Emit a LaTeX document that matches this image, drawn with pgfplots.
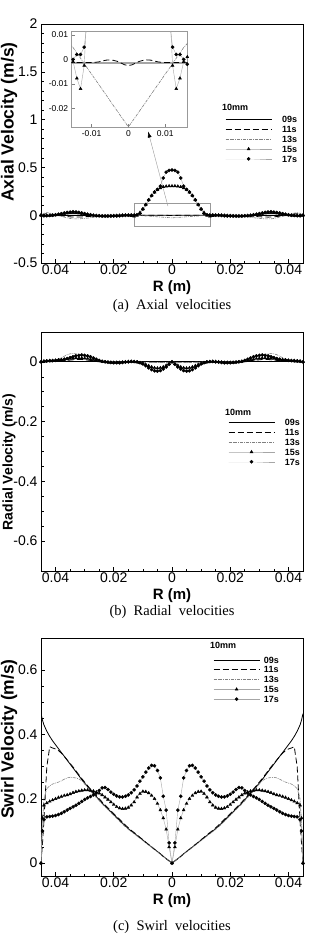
\documentclass[border=0pt]{standalone}
\usepackage{fontspec}
\setmainfont{Liberation Sans}
\newfontfamily\capfont{Liberation Serif}
\usepackage{pgfplots}
\pgfplotsset{compat=1.18}
\usepackage{pgfplotstable}
\usetikzlibrary{arrows.meta}

% Axial velocity (panel a)
\pgfplotstableread{
r a09 a11 a13 a15 a17
-0.045 0.000 0.000 0.000 0.000 0.000
-0.044 -0.002 0.012 0.020 -0.004 -0.006
-0.043 -0.002 0.016 0.027 -0.004 -0.006
-0.042 -0.002 0.013 0.022 -0.003 -0.004
-0.041 -0.002 0.008 0.014 -0.001 -0.001
-0.040 -0.002 0.003 0.005 0.002 0.004
-0.039 -0.002 -0.002 -0.004 0.006 0.010
-0.038 -0.002 -0.006 -0.012 0.011 0.016
-0.037 -0.002 -0.010 -0.020 0.016 0.023
-0.036 -0.002 -0.014 -0.028 0.021 0.029
-0.035 -0.002 -0.017 -0.034 0.024 0.033
-0.034 -0.002 -0.019 -0.038 0.025 0.035
-0.033 -0.002 -0.020 -0.039 0.024 0.034
-0.032 -0.002 -0.019 -0.038 0.021 0.030
-0.031 -0.002 -0.018 -0.036 0.017 0.024
-0.030 -0.002 -0.016 -0.033 0.012 0.017
-0.029 -0.002 -0.014 -0.030 0.007 0.010
-0.028 -0.002 -0.012 -0.026 0.002 0.004
-0.027 -0.002 -0.010 -0.022 -0.002 -0.001
-0.026 -0.002 -0.008 -0.018 -0.005 -0.005
-0.025 -0.002 -0.007 -0.014 -0.007 -0.007
-0.024 -0.002 -0.006 -0.010 -0.008 -0.009
-0.023 -0.002 -0.005 -0.006 -0.008 -0.010
-0.022 -0.002 -0.004 -0.002 -0.008 -0.010
-0.021 -0.002 -0.003 0.002 -0.007 -0.010
-0.020 -0.002 -0.003 0.005 -0.006 -0.009
-0.019 -0.002 -0.002 0.007 -0.004 -0.008
-0.018 -0.002 -0.002 0.008 -0.002 -0.006
-0.017 -0.002 -0.0015 0.0075 0.000 -0.004
-0.016 -0.0015 -0.0013 0.0065 0.0010 -0.002
-0.015 -0.0015 -0.0013 0.0048 -0.0010 0.000
-0.014 -0.0015 -0.0013 0.0026 -0.0077 0.002
-0.013 -0.0015 -0.0013 0.0005 -0.0120 0.002
-0.012 -0.0015 -0.0013 -0.0017 -0.0025 0.005
-0.011 -0.0015 -0.0013 -0.0039 0.028 0.018
-0.010 -0.0015 -0.0013 -0.0060 0.065 0.063
-0.009 -0.0015 -0.0012 -0.0082 0.110 0.110
-0.008 -0.0015 -0.0010 -0.0103 0.160 0.160
-0.007 -0.0015 -0.0006 -0.0125 0.205 0.205
-0.006 -0.0015 -0.0003 -0.0146 0.240 0.242
-0.005 -0.0015 -0.0002 -0.0168 0.265 0.270
-0.004 -0.0015 -0.0004 -0.0190 0.285 0.305
-0.003 -0.0015 -0.0008 -0.0211 0.296 0.390
-0.002 -0.0015 -0.0015 -0.0233 0.302 0.450
-0.001 -0.0015 -0.0022 -0.0254 0.305 0.468
0.000 -0.0015 -0.0025 -0.0276 0.305 0.472
0.001 -0.0015 -0.0022 -0.0254 0.305 0.468
0.002 -0.0015 -0.0015 -0.0233 0.302 0.450
0.003 -0.0015 -0.0008 -0.0211 0.296 0.390
0.004 -0.0015 -0.0004 -0.0190 0.285 0.305
0.005 -0.0015 -0.0002 -0.0168 0.265 0.270
0.006 -0.0015 -0.0003 -0.0146 0.240 0.242
0.007 -0.0015 -0.0006 -0.0125 0.205 0.205
0.008 -0.0015 -0.0010 -0.0103 0.160 0.160
0.009 -0.0015 -0.0012 -0.0082 0.110 0.110
0.010 -0.0015 -0.0013 -0.0060 0.065 0.063
0.011 -0.0015 -0.0013 -0.0039 0.028 0.018
0.012 -0.0015 -0.0013 -0.0017 -0.0025 0.005
0.013 -0.0015 -0.0013 0.0005 -0.0120 0.002
0.014 -0.0015 -0.0013 0.0026 -0.0077 0.002
0.015 -0.0015 -0.0013 0.0048 -0.0010 0.000
0.016 -0.0015 -0.0013 0.0065 0.0010 -0.002
0.017 -0.002 -0.0015 0.0075 0.000 -0.004
0.018 -0.002 -0.002 0.008 -0.002 -0.006
0.019 -0.002 -0.002 0.007 -0.004 -0.008
0.020 -0.002 -0.003 0.005 -0.006 -0.009
0.021 -0.002 -0.003 0.002 -0.007 -0.010
0.022 -0.002 -0.004 -0.002 -0.008 -0.010
0.023 -0.002 -0.005 -0.006 -0.008 -0.010
0.024 -0.002 -0.006 -0.010 -0.008 -0.009
0.025 -0.002 -0.007 -0.014 -0.007 -0.007
0.026 -0.002 -0.008 -0.018 -0.005 -0.005
0.027 -0.002 -0.010 -0.022 -0.002 -0.001
0.028 -0.002 -0.012 -0.026 0.002 0.004
0.029 -0.002 -0.014 -0.030 0.007 0.010
0.030 -0.002 -0.016 -0.033 0.012 0.017
0.031 -0.002 -0.018 -0.036 0.017 0.024
0.032 -0.002 -0.019 -0.038 0.021 0.030
0.033 -0.002 -0.020 -0.039 0.024 0.034
0.034 -0.002 -0.019 -0.038 0.025 0.035
0.035 -0.002 -0.017 -0.034 0.024 0.033
0.036 -0.002 -0.014 -0.028 0.021 0.029
0.037 -0.002 -0.010 -0.020 0.016 0.023
0.038 -0.002 -0.006 -0.012 0.011 0.016
0.039 -0.002 -0.002 -0.004 0.006 0.010
0.040 -0.002 0.003 0.005 0.002 0.004
0.041 -0.002 0.008 0.014 -0.001 -0.001
0.042 -0.002 0.013 0.022 -0.003 -0.004
0.043 -0.002 0.016 0.027 -0.004 -0.006
0.044 -0.002 0.012 0.020 -0.004 -0.006
0.045 0.000 0.000 0.000 0.000 0.000
}\tabA

% Radial velocity (panel b)
\pgfplotstableread{
r b09 b11 b13 b15 b17
-0.045 0 0 0 0 0
-0.044 0 0 0.001 0.002 0.002
-0.043 0 0 0.002 0.003 0.003
-0.042 0 0 0.002 0.004 0.004
-0.041 0 0.001 0.003 0.004 0.004
-0.040 0 0.001 0.005 0.005 0.005
-0.039 0 0.002 0.009 0.006 0.006
-0.038 0 0.003 0.014 0.007 0.007
-0.037 0 0.004 0.019 0.008 0.009
-0.036 0 0.005 0.024 0.010 0.011
-0.035 0 0.006 0.027 0.011 0.014
-0.034 0 0.007 0.028 0.012 0.017
-0.033 0 0.008 0.027 0.013 0.020
-0.032 0 0.008 0.025 0.013 0.022
-0.031 0 0.008 0.023 0.013 0.023
-0.030 0 0.007 0.020 0.012 0.022
-0.029 0 0.006 0.017 0.011 0.020
-0.028 0 0.005 0.014 0.009 0.017
-0.027 0 0.004 0.011 0.007 0.013
-0.026 0 0.003 0.008 0.005 0.009
-0.025 0 0.002 0.006 0.003 0.005
-0.024 0 0.002 0.004 0.001 0.002
-0.023 0 0.001 0.003 0 0
-0.022 0 0.001 0.002 -0.001 -0.001
-0.021 0 0 0.001 -0.002 -0.002
-0.020 0 0 0.001 -0.002 -0.003
-0.019 0 0 0 -0.002 -0.003
-0.018 0 0 0 -0.002 -0.003
-0.017 0 0 0 -0.001 -0.002
-0.016 0 0 0 0 -0.001
-0.015 0 0 0 0.001 0
-0.014 0 0 0 0.001 0.001
-0.013 0 0 0 0 0.001
-0.012 0 0 0 -0.001 0
-0.011 0 0 0 -0.003 -0.003
-0.010 0 0 -0.001 -0.006 -0.007
-0.009 0 0 -0.001 -0.009 -0.013
-0.008 0 0 -0.001 -0.013 -0.020
-0.007 0 0 -0.002 -0.017 -0.026
-0.006 0 0 -0.002 -0.020 -0.030
-0.005 0 0 -0.002 -0.021 -0.031
-0.004 0 0 -0.002 -0.020 -0.029
-0.003 0 0 -0.002 -0.017 -0.024
-0.002 0 0 -0.002 -0.012 -0.017
-0.001 0 0 -0.001 -0.006 -0.008
0.000 0 0 0 0 0
0.001 0 0 -0.001 -0.006 -0.008
0.002 0 0 -0.002 -0.012 -0.017
0.003 0 0 -0.002 -0.017 -0.024
0.004 0 0 -0.002 -0.020 -0.029
0.005 0 0 -0.002 -0.021 -0.031
0.006 0 0 -0.002 -0.020 -0.030
0.007 0 0 -0.002 -0.017 -0.026
0.008 0 0 -0.001 -0.013 -0.020
0.009 0 0 -0.001 -0.009 -0.013
0.010 0 0 -0.001 -0.006 -0.007
0.011 0 0 0 -0.003 -0.003
0.012 0 0 0 -0.001 0
0.013 0 0 0 0 0.001
0.014 0 0 0 0.001 0.001
0.015 0 0 0 0.001 0
0.016 0 0 0 0 -0.001
0.017 0 0 0 -0.001 -0.002
0.018 0 0 0 -0.002 -0.003
0.019 0 0 0 -0.002 -0.003
0.020 0 0 0.001 -0.002 -0.003
0.021 0 0 0.001 -0.002 -0.002
0.022 0 0.001 0.002 -0.001 -0.001
0.023 0 0.001 0.003 0 0
0.024 0 0.002 0.004 0.001 0.002
0.025 0 0.002 0.006 0.003 0.005
0.026 0 0.003 0.008 0.005 0.009
0.027 0 0.004 0.011 0.007 0.013
0.028 0 0.005 0.014 0.009 0.017
0.029 0 0.006 0.017 0.011 0.020
0.030 0 0.007 0.020 0.012 0.022
0.031 0 0.008 0.023 0.013 0.023
0.032 0 0.008 0.025 0.013 0.022
0.033 0 0.008 0.027 0.013 0.020
0.034 0 0.007 0.028 0.012 0.017
0.035 0 0.006 0.027 0.011 0.014
0.036 0 0.005 0.024 0.010 0.011
0.037 0 0.004 0.019 0.008 0.009
0.038 0 0.003 0.014 0.007 0.007
0.039 0 0.002 0.009 0.006 0.006
0.040 0 0.001 0.005 0.005 0.005
0.041 0 0.001 0.003 0.004 0.004
0.042 0 0 0.002 0.004 0.004
0.043 0 0 0.002 0.003 0.003
0.044 0 0 0.001 0.002 0.002
0.045 0 0 0 0 0
}\tabB

% Swirl velocity (panel c)
\pgfplotstableread{
r c09 c11 c13 c15 c17
-0.045 0.465 0.000 0.000 0.000 0.000
-0.0445 0.445 0.060 0.120 0.140 0.100
-0.044 0.430 0.130 0.200 0.180 0.135
-0.043 0.410 0.300 0.232 0.187 0.144
-0.042 0.394 0.362 0.240 0.192 0.145
-0.041 0.380 0.358 0.246 0.196 0.146
-0.040 0.368 0.355 0.249 0.200 0.148
-0.039 0.356 0.350 0.252 0.204 0.151
-0.038 0.344 0.342 0.256 0.207 0.155
-0.037 0.332 0.332 0.261 0.210 0.160
-0.036 0.320 0.321 0.265 0.212 0.165
-0.035 0.308 0.310 0.267 0.215 0.170
-0.034 0.296 0.299 0.266 0.219 0.175
-0.033 0.284 0.287 0.265 0.222 0.180
-0.032 0.272 0.275 0.262 0.224 0.186
-0.031 0.260 0.263 0.256 0.226 0.192
-0.030 0.249 0.252 0.246 0.227 0.198
-0.029 0.238 0.241 0.235 0.227 0.203
-0.028 0.227 0.230 0.224 0.226 0.207
-0.027 0.217 0.220 0.214 0.224 0.212
-0.026 0.207 0.210 0.204 0.221 0.218
-0.025 0.197 0.200 0.194 0.217 0.226
-0.024 0.187 0.190 0.184 0.212 0.234
-0.023 0.178 0.181 0.175 0.205 0.235
-0.022 0.169 0.172 0.166 0.198 0.229
-0.021 0.160 0.163 0.157 0.190 0.221
-0.020 0.151 0.154 0.148 0.182 0.214
-0.019 0.142 0.145 0.139 0.175 0.209
-0.018 0.133 0.136 0.130 0.171 0.206
-0.017 0.124 0.127 0.121 0.169 0.206
-0.016 0.115 0.118 0.113 0.170 0.208
-0.015 0.107 0.110 0.105 0.173 0.212
-0.014 0.100 0.102 0.098 0.180 0.219
-0.013 0.093 0.095 0.091 0.190 0.228
-0.012 0.086 0.088 0.084 0.205 0.240
-0.011 0.079 0.080 0.077 0.216 0.255
-0.010 0.072 0.073 0.070 0.223 0.268
-0.009 0.064 0.065 0.063 0.222 0.283
-0.008 0.057 0.058 0.056 0.218 0.296
-0.007 0.050 0.051 0.049 0.210 0.304
-0.006 0.043 0.043 0.042 0.200 0.303
-0.005 0.036 0.036 0.035 0.185 0.288
-0.004 0.029 0.029 0.028 0.165 0.265
-0.003 0.021 0.021 0.021 0.140 0.208
-0.002 0.014 0.014 0.014 0.105 0.165
-0.001 0.007 0.007 0.007 0.050 0.063
0.000 0.000 0.000 0.000 0.000 0.000
0.001 0.007 0.007 0.007 0.050 0.063
0.002 0.014 0.014 0.014 0.105 0.165
0.003 0.021 0.021 0.021 0.140 0.208
0.004 0.029 0.029 0.028 0.165 0.265
0.005 0.036 0.036 0.035 0.185 0.288
0.006 0.043 0.043 0.042 0.200 0.303
0.007 0.050 0.051 0.049 0.210 0.304
0.008 0.057 0.058 0.056 0.218 0.296
0.009 0.064 0.065 0.063 0.222 0.283
0.010 0.072 0.073 0.070 0.223 0.268
0.011 0.079 0.080 0.077 0.216 0.255
0.012 0.086 0.088 0.084 0.205 0.240
0.013 0.093 0.095 0.091 0.190 0.228
0.014 0.100 0.102 0.098 0.180 0.219
0.015 0.107 0.110 0.105 0.173 0.212
0.016 0.115 0.118 0.113 0.170 0.208
0.017 0.124 0.127 0.121 0.169 0.206
0.018 0.133 0.136 0.130 0.171 0.206
0.019 0.142 0.145 0.139 0.175 0.209
0.020 0.151 0.154 0.148 0.182 0.214
0.021 0.160 0.163 0.157 0.190 0.221
0.022 0.169 0.172 0.166 0.198 0.229
0.023 0.178 0.181 0.175 0.205 0.235
0.024 0.187 0.190 0.184 0.212 0.234
0.025 0.197 0.200 0.194 0.217 0.226
0.026 0.207 0.210 0.204 0.221 0.218
0.027 0.217 0.220 0.214 0.224 0.212
0.028 0.227 0.230 0.224 0.226 0.207
0.029 0.238 0.241 0.235 0.227 0.203
0.030 0.249 0.252 0.246 0.227 0.198
0.031 0.260 0.263 0.256 0.226 0.192
0.032 0.272 0.275 0.262 0.224 0.186
0.033 0.284 0.287 0.265 0.222 0.180
0.034 0.296 0.299 0.266 0.219 0.175
0.035 0.308 0.310 0.267 0.215 0.170
0.036 0.320 0.321 0.265 0.212 0.165
0.037 0.332 0.332 0.261 0.210 0.160
0.038 0.344 0.342 0.256 0.207 0.155
0.039 0.356 0.350 0.252 0.204 0.151
0.040 0.368 0.355 0.249 0.200 0.148
0.041 0.380 0.358 0.246 0.196 0.146
0.042 0.394 0.362 0.240 0.192 0.145
0.043 0.410 0.300 0.232 0.187 0.144
0.044 0.430 0.130 0.200 0.180 0.135
0.0445 0.445 0.060 0.120 0.140 0.100
0.045 0.465 0.000 0.000 0.000 0.000
}\tabC

\pgfplotsset{
  s09/.style={black, line width=0.8pt, no marks},
  s11/.style={black, line width=0.8pt, dash pattern=on 6pt off 3pt, no marks},
  s13/.style={gray, line width=0.6pt, dash pattern=on 3pt off 1pt on 0.8pt off 1pt, no marks},
  s15/.style={gray!70, line width=0.4pt, mark=triangle*, mark size=1.7pt, mark options={black, fill=black, solid}},
  s17/.style={gray!70, line width=0.4pt, mark=*, mark size=1.6pt, mark options={black, fill=black, solid}},
  panel/.style={
    scale only axis, width=262pt,
    xmin=-0.045, xmax=0.045,
    xtick={-0.04,-0.02,0,0.02,0.04},
    xticklabels={0.04,0.02,0,0.02,0.04},
    minor x tick num=3,
    scaled ticks=false,
    tick pos=left, tick align=inside,
    major tick length=4pt, minor tick length=2.5pt,
    every tick/.style={black, line width=0.6pt},
    axis line style={line width=0.8pt},
    tick label style={font=\fontsize{14}{14}\selectfont},
    xticklabel style={yshift=1.5pt},
    /pgf/number format/assume math mode=true,
    xlabel={R (m)},
    xlabel style={font=\fontsize{15}{15}\selectfont\bfseries, at={(axis description cs:0.5,-0.104)}, anchor=center},
    legend cell align=left,
    legend style={draw=none, fill=none, font=\fontsize{9}{9}\selectfont\bfseries,
      row sep=1.3pt, column sep=9pt, nodes={inner sep=1pt, text height=6.5pt, text depth=0pt}},
    legend image code/.code={\draw[mark repeat=2,mark phase=2,##1] plot coordinates {(0pt,0pt) (23pt,0pt) (46pt,0pt)};},
  },
}

\begin{document}
\begin{tikzpicture}
\useasboundingbox (0,0) rectangle (308pt,-937pt);

% ---------- (a) axial ----------
\begin{axis}[panel, at={(41pt,-263pt)}, anchor=south west, height=239pt,
  ymin=-0.5, ymax=2,
  ytick={-0.5,0,0.5,1,1.5,2}, yticklabels={-0.5,0,0.5,1,1.5,2},
  minor y tick num=4,
  ylabel={Axial Velocity (m/s)},
  ylabel style={font=\fontsize{17.5}{17.5}\selectfont\bfseries, at={(axis description cs:-0.122,0.59)}, anchor=center},
  legend style={at={(axis description cs:0.691,0.627)}, anchor=north west}]
\addplot[s09] table[x=r, y=a09] {\tabA};
\addplot[s11] table[x=r, y=a11] {\tabA};
\addplot[s13] table[x=r, y=a13] {\tabA};
\addplot[s15] table[x=r, y=a15] {\tabA};
\addplot[s17] table[x=r, y=a17] {\tabA};
\legend{09s,11s,13s,15s,17s}
\node[anchor=west, font=\fontsize{9}{9}\selectfont\bfseries, inner sep=0pt] at (axis description cs:0.691,0.653) {10mm};
\draw[gray!80, line width=0.5pt] (axis cs:-0.013,-0.12) rectangle (axis cs:0.013,0.13);
\draw[gray!80, line width=0.4pt, -{Latex[length=6pt,width=4pt,black]}] (axis cs:-0.0014,0.095) -- (axis cs:-0.0082,0.875);
\end{axis}

% inset
\begin{axis}[at={(71.7pt,-127.3pt)}, anchor=south west, scale only axis,
  width=115.6pt, height=95.6pt,
  xmin=-0.0154, xmax=0.0160, ymin=-0.0277, ymax=0.0113,
  xtick={-0.01,0,0.01}, xticklabels={-0.01,0,0.01},
  ytick={-0.02,-0.01,0,0.01}, yticklabels={-0.02,-0.01,0,0.01},
  scaled ticks=false,
  tick pos=left, tick align=inside, major tick length=3pt,
  every tick/.style={gray, line width=0.5pt},
  axis line style={gray!80, line width=0.6pt},
  tick label style={font=\fontsize{8.5}{8.5}\selectfont},
  axis background/.style={fill=white}]
\addplot[s09] table[x=r, y=a09] {\tabA};
\addplot[s11] table[x=r, y=a11] {\tabA};
\addplot[s13] table[x=r, y=a13] {\tabA};
\addplot[s15] table[x=r, y=a15] {\tabA};
\addplot[s17] table[x=r, y=a17] {\tabA};
\end{axis}

\node[font=\capfont\fontsize{14.5}{15}\selectfont] at (172pt,-306pt) {(a)~~Axial~~velocities};

% ---------- (b) radial ----------
\begin{axis}[panel, at={(41pt,-571pt)}, anchor=south west, height=239pt,
  ymin=-0.7, ymax=0.1,
  ytick={-0.6,-0.4,-0.2,0}, yticklabels={-0.6,-0.4,-0.2,0},
  minor y tick num=3,
  ylabel={Radial Velocity (m/s)},
  ylabel style={font=\fontsize{14}{14}\selectfont\bfseries, at={(axis description cs:-0.122,0.456)}, anchor=center},
  legend style={at={(axis description cs:0.702,0.648)}, anchor=north west}]
\addplot[s09] table[x=r, y=b09] {\tabB};
\addplot[s11] table[x=r, y=b11] {\tabB};
\addplot[s13] table[x=r, y=b13] {\tabB};
\addplot[s15] table[x=r, y=b15] {\tabB};
\addplot[s17] table[x=r, y=b17] {\tabB};
\legend{09s,11s,13s,15s,17s}
\node[anchor=west, font=\fontsize{9}{9}\selectfont\bfseries, inner sep=0pt] at (axis description cs:0.702,0.662) {10mm};
\end{axis}

\node[font=\capfont\fontsize{14.5}{15}\selectfont] at (172pt,-612pt) {(b)~~Radial~~velocities};

% ---------- (c) swirl ----------
\begin{axis}[panel, at={(41pt,-876pt)}, anchor=south west, height=238pt,
  ymin=-0.04, ymax=0.7,
  ytick={0,0.2,0.4,0.6}, yticklabels={0,0.2,0.4,0.6},
  minor y tick num=3,
  ylabel={Swirl Velocity (m/s)},
  ylabel style={font=\fontsize{17.5}{17.5}\selectfont\bfseries, at={(axis description cs:-0.122,0.576)}, anchor=center},
  legend style={at={(axis description cs:0.645,0.935)}, anchor=north west, column sep=3pt}]
\addplot[s09] table[x=r, y=c09] {\tabC};
\addplot[s11] table[x=r, y=c11] {\tabC};
\addplot[s13] table[x=r, y=c13] {\tabC};
\addplot[s15] table[x=r, y=c15] {\tabC};
\addplot[s17] table[x=r, y=c17] {\tabC};
\legend{09s,11s,13s,15s,17s}
\node[anchor=west, font=\fontsize{9}{9}\selectfont\bfseries, inner sep=0pt] at (axis description cs:0.645,0.971) {10mm};
\end{axis}

\node[font=\capfont\fontsize{14.5}{15}\selectfont] at (172pt,-927pt) {(c)~~Swirl~~velocities};
\end{tikzpicture}
\end{document}
